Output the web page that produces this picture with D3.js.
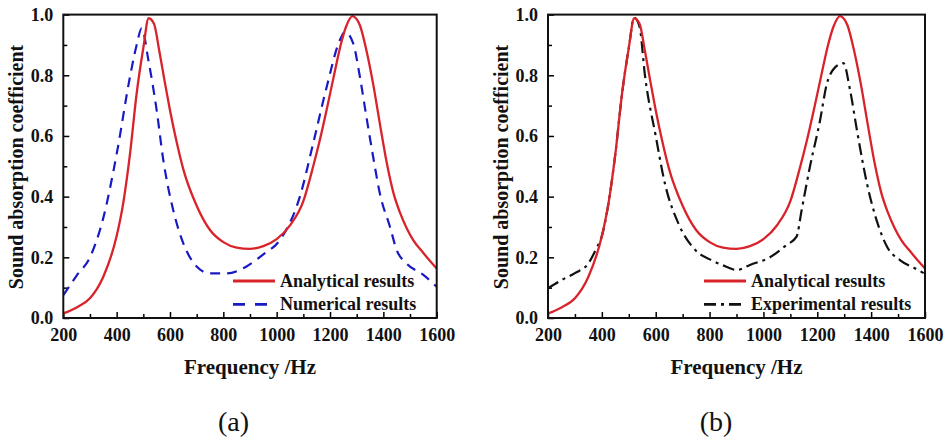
<!DOCTYPE html>
<html>
<head>
<meta charset="utf-8">
<script src="https://cdn.jsdelivr.net/npm/d3@7"></script>
<style>
  body { margin: 0; background: #fff; }
  svg text { font-family: "Liberation Serif", "Times New Roman", serif; }
</style>
</head>
<body>
<div id="chart"></div>
<script>
// analytical curve (same in both panels)
var freqA = [200,250,300,350,400,425,450,475,500,520,540,560,580,600,625,650,700,750,800,850,900,950,1000,1050,1100,1137,1160,1187,1215,1240,1260,1285,1300,1312,1337,1362,1387,1412,1437,1462,1487,1512,1550,1600];
var valA  = [0.015,0.035,0.065,0.136,0.27,0.38,0.54,0.74,0.89,0.988,0.97,0.88,0.78,0.685,0.58,0.49,0.37,0.29,0.25,0.232,0.228,0.237,0.26,0.305,0.385,0.5,0.58,0.685,0.8,0.9,0.96,0.995,0.985,0.965,0.88,0.77,0.64,0.515,0.415,0.348,0.297,0.257,0.214,0.163];

// numerical results (panel a)
var freqN = [200,250,300,350,400,450,475,494,519,550,575,612,650,700,750,812,887,950,1012,1087,1137,1187,1237,1256,1287,1312,1337,1362,1387,1425,1450,1487,1550,1600];
var valN  = [0.075,0.14,0.2,0.33,0.54,0.795,0.9,0.955,0.85,0.685,0.52,0.356,0.246,0.17,0.147,0.147,0.17,0.21,0.257,0.4,0.576,0.76,0.916,0.943,0.905,0.795,0.66,0.53,0.41,0.30,0.224,0.18,0.142,0.103];

// experimental results (panel b)
var freqE = [200,250,300,350,380,400,425,450,475,500,520,540,560,600,635,685,747,809,860,902,950,1024,1085,1123,1142,1173,1210,1235,1260,1297,1322,1347,1384,1421,1459,1508,1560,1595];
var valE  = [0.098,0.125,0.148,0.18,0.23,0.27,0.38,0.54,0.74,0.89,0.99,0.96,0.8,0.6,0.44,0.31,0.224,0.19,0.17,0.158,0.175,0.2,0.24,0.268,0.356,0.5,0.65,0.77,0.82,0.84,0.75,0.62,0.445,0.32,0.235,0.19,0.165,0.148];

var xMajor = [200,400,600,800,1000,1200,1400,1600];
var xMinor = [300,500,700,900,1100,1300,1500];
var yMajor = [0,0.2,0.4,0.6,0.8,1.0];
var yMinor = [0.1,0.3,0.5,0.7,0.9];

var svg = d3.select("#chart").append("svg")
    .attr("width", 947)
    .attr("height", 441);

function toPts(fs, vs){
  return fs.map(function(f,i){ return [f, vs[i]]; });
}

function drawPanel(opt){
  var x = d3.scaleLinear().domain([200,1600]).range([opt.left, opt.right]);
  var y = d3.scaleLinear().domain([0,1]).range([318, 14.6]);
  var g = svg.append("g");

  g.append("clipPath").attr("id", "clip" + opt.id)
    .append("rect")
    .attr("x", opt.left).attr("y", 14.6)
    .attr("width", opt.right - opt.left).attr("height", 318 - 14.6);

  // minor ticks
  g.append("g").attr("transform", "translate(0,318)")
    .call(d3.axisBottom(x).tickValues(xMinor).tickSize(-4).tickFormat(""))
    .call(function(a){ a.select(".domain").remove(); a.selectAll("line").attr("stroke-width", 1.5); });
  g.append("g").attr("transform", "translate(" + opt.left + ",0)")
    .call(d3.axisLeft(y).tickValues(yMinor).tickSize(-4).tickFormat(""))
    .call(function(a){ a.select(".domain").remove(); a.selectAll("line").attr("stroke-width", 1.5); });

  // major ticks + labels
  var xa = g.append("g").attr("transform", "translate(0,318)")
    .call(d3.axisBottom(x).tickValues(xMajor).tickSize(-6).tickPadding(10).tickFormat(d3.format("d")));
  xa.select(".domain").remove();
  xa.selectAll("line").attr("stroke-width", 1.5);
  xa.selectAll("text").attr("font-size", 18).attr("font-weight", "bold")
    .attr("font-family", "Liberation Serif").attr("fill", "#111");

  var ya = g.append("g").attr("transform", "translate(" + opt.left + ",0)")
    .call(d3.axisLeft(y).tickValues(yMajor).tickSize(-6).tickPadding(10).tickFormat(d3.format(".1f")));
  ya.select(".domain").remove();
  ya.selectAll("line").attr("stroke-width", 1.5);
  ya.selectAll("text").attr("font-size", 18).attr("font-weight", "bold")
    .attr("font-family", "Liberation Serif").attr("fill", "#111");

  var line = d3.line()
    .x(function(d){ return x(d[0]); })
    .y(function(d){ return y(d[1]); })
    .curve(d3.curveMonotoneX);

  var curves = g.append("g").attr("clip-path", "url(#clip" + opt.id + ")");
  curves.append("path")
    .attr("d", line(toPts(opt.f2, opt.v2)))
    .attr("fill", "none")
    .attr("stroke", opt.c2)
    .attr("stroke-width", 2.2)
    .attr("stroke-dasharray", opt.dash2);
  curves.append("path")
    .attr("d", line(toPts(freqA, valA)))
    .attr("fill", "none")
    .attr("stroke", "#d9232b")
    .attr("stroke-width", 2.3);

  // frame
  g.append("rect")
    .attr("x", opt.left).attr("y", 14.6)
    .attr("width", opt.right - opt.left).attr("height", 318 - 14.6)
    .attr("fill", "none").attr("stroke", "#111").attr("stroke-width", 2);

  // legend
  var lg = g.append("g");
  var rows = [
    {label: "Analytical results", color: "#d9232b", dash: null, w: 2.8},
    {label: opt.label2, color: opt.c2, dash: opt.legDash2, w: 2.8}
  ];
  rows.forEach(function(r, i){
    var yy = 281 + i * 23.3;
    lg.append("line")
      .attr("x1", opt.legX).attr("x2", opt.legX + 42)
      .attr("y1", yy).attr("y2", yy)
      .attr("stroke", r.color).attr("stroke-width", r.w)
      .attr("stroke-dasharray", r.dash);
    lg.append("text")
      .attr("x", opt.legX + 47).attr("y", yy + 6)
      .attr("font-size", 18).attr("font-weight", "bold").attr("fill", "#111")
      .text(r.label);
  });

  // axis titles
  g.append("text")
    .attr("x", (opt.left + opt.right) / 2).attr("y", 374)
    .attr("text-anchor", "middle")
    .attr("font-size", 21).attr("font-weight", "bold").attr("fill", "#111")
    .text("Frequency /Hz");
  g.append("text")
    .attr("transform", "translate(" + opt.yTitleX + ",167) rotate(-90)")
    .attr("text-anchor", "middle")
    .attr("font-size", 20).attr("font-weight", "bold").attr("fill", "#111")
    .text("Sound absorption coefficient");

  g.append("text")
    .attr("x", opt.capX).attr("y", 431)
    .attr("text-anchor", "middle")
    .attr("font-size", 28).attr("fill", "#111")
    .text(opt.caption);
}

drawPanel({
  id: "a", left: 63.3, right: 436.7,
  f2: freqN, v2: valN, c2: "#1a1ac4", dash2: "10,7", legDash2: "12,10",
  label2: "Numerical results", legX: 233, yTitleX: 23, capX: 233.5, caption: "(a)"
});

drawPanel({
  id: "b", left: 548, right: 925,
  f2: freqE, v2: valE, c2: "#111", dash2: "12,5,3,5", legDash2: "12,5,3,5",
  label2: "Experimental results", legX: 704, yTitleX: 508, capX: 716, caption: "(b)"
});
</script>
</body>
</html>
